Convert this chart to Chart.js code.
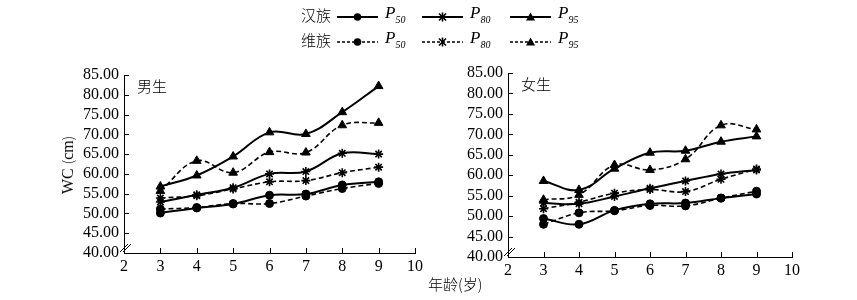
<!DOCTYPE html>
<html>
<head>
<meta charset="utf-8">
<script src="https://cdn.jsdelivr.net/npm/chart.js@4.4.1/dist/chart.umd.min.js"></script>
<style>
  body { margin: 0; background: #fff; width: 857px; height: 300px; position: relative; overflow: hidden;
         font-family: "Liberation Serif", "DejaVu Serif", serif; color: #000; }
  canvas { position: absolute; top: 0; }
  .zh { font-family: "Noto Sans CJK SC", sans-serif; font-weight: 300; }
  .abs { position: absolute; white-space: nowrap; }
  .lg-p { font-style: italic; font-size: 17px; }
  .lg-p sub { font-size: 10px; vertical-align: -5px; }
</style>
</head>
<body>
<canvas id="boysChart" width="440" height="300" style="left:0px"></canvas>
<canvas id="girlsChart" width="427" height="300" style="left:430px"></canvas>
<div id="legend"></div>
<div class="abs" style="left:67px;top:165px;transform:translate(-50%,-50%) rotate(-90deg);font-size:16px;">
  WC <span class="zh" style="font-size:14px">(</span>cm<span class="zh" style="font-size:14px">)</span>
</div>
<div class="abs zh" style="left:428px;top:273px;font-size:15px;">年龄(岁)</div>
<script>
/* Data */
const ages = [3, 4, 5, 6, 7, 8, 9];
const percentiles = ['50', '80', '95'];
const groups = ['汉族', '维族'];
const yTicks = [40, 45, 50, 55, 60, 65, 70, 75, 80, 85];
const xTicks = [2, 3, 4, 5, 6, 7, 8, 9, 10];

// boys (男生)
const boys_han_p50 = [50.1, 51.4, 52.4, 54.6, 54.9, 57.2, 58.0];
const boys_han_p80 = [52.9, 54.7, 56.5, 60.0, 60.6, 65.2, 65.0];
const boys_han_p95 = [56.8, 59.6, 64.4, 70.5, 70.1, 75.6, 82.2];
const boys_uyg_p50 = [51.1, 51.5, 52.5, 52.5, 54.4, 56.3, 57.6];
const boys_uyg_p80 = [53.9, 54.5, 56.2, 58.0, 58.3, 60.3, 61.7];
const boys_uyg_p95 = [55.7, 63.3, 60.3, 65.5, 65.4, 72.3, 72.9];

// girls (女生)
const girls_han_p50 = [49.4, 48.0, 51.4, 53.0, 53.2, 54.4, 55.4];
const girls_han_p80 = [53.2, 53.0, 54.8, 56.8, 58.6, 60.3, 61.3];
const girls_han_p95 = [58.6, 56.4, 61.6, 65.5, 66.0, 68.2, 69.5];
const girls_uyg_p50 = [48.0, 50.8, 51.3, 52.6, 52.5, 54.4, 56.1];
const girls_uyg_p80 = [51.8, 53.4, 55.6, 56.5, 56.0, 59.0, 61.5];
const girls_uyg_p95 = [54.0, 55.2, 62.5, 61.3, 63.9, 72.2, 71.2];

// marker per percentile
const markerStyle = { '50': 'circle', '80': 'star', '95': 'triangle' };
const markerRadius = { '50': 4, '80': 4.5, '95': 5 };

function toPoints(vals) {
  return vals.map((v, i) => ({ x: ages[i], y: v }));
}

function makeDataset(vals, pct, dashed) {
  return {
    data: toPoints(vals),
    borderColor: '#000',
    backgroundColor: '#000',
    borderWidth: dashed ? 1.6 : 2,
    borderDash: dashed ? [5, 3] : [],
    tension: 0.4,
    pointStyle: markerStyle[pct],
    pointRadius: markerRadius[pct],
    pointBorderColor: '#000',
    pointBackgroundColor: '#000',
    pointBorderWidth: pct === '80' ? 1.6 : 1,
    fill: false
  };
}

// inward tick marks + axis break + panel label
const axisExtras = {
  id: 'axisExtras',
  afterDraw(chart) {
    const ctx = chart.ctx;
    const xs = chart.scales.x, ys = chart.scales.y;
    const a = chart.chartArea;
    ctx.save();
    ctx.strokeStyle = '#000';
    ctx.lineWidth = 1;
    ctx.beginPath();
    xTicks.forEach(t => {
      const px = Math.round(xs.getPixelForValue(t)) + 0.5;
      ctx.moveTo(px, a.bottom);
      ctx.lineTo(px, a.bottom - 5);
    });
    yTicks.forEach(t => {
      const py = Math.round(ys.getPixelForValue(t)) + 0.5;
      ctx.moveTo(a.left, py);
      ctx.lineTo(a.left + 5, py);
    });
    ctx.stroke();
    // break marks
    ctx.beginPath();
    for (let k = 0; k < 2; k++) {
      ctx.moveTo(a.left - 4 + k * 3, a.bottom - 1);
      ctx.lineTo(a.left + 4 + k * 3, a.bottom - 9);
    }
    ctx.stroke();
    // panel label
    ctx.fillStyle = '#000';
    ctx.font = '300 15px "Noto Sans CJK SC"';
    ctx.textBaseline = 'middle';
    ctx.fillText(chart.options.plugins.panelLabel, a.left + 13, a.top + 11);
    ctx.restore();
  }
};

function makeChart(id, han, uyg, label, box) {
  const datasets = [];
  percentiles.forEach((p, i) => datasets.push(makeDataset(han[i], p, false)));
  percentiles.forEach((p, i) => datasets.push(makeDataset(uyg[i], p, true)));
  return new Chart(document.getElementById(id).getContext('2d'), {
    type: 'line',
    data: { datasets: datasets },
    plugins: [axisExtras],
    options: {
      responsive: false,
      animation: false,
      layout: { padding: { top: box.top, right: box.right, bottom: 0, left: 0 } },
      plugins: { legend: { display: false }, tooltip: { enabled: false }, panelLabel: label },
      scales: {
        x: {
          type: 'linear', min: 2, max: 10,
          afterBuildTicks: s => { s.ticks = xTicks.map(v => ({ value: v })); },
          afterFit: s => { s.height = box.xh; },
          grid: { display: false, drawTicks: false },
          border: { display: true, color: '#000', width: 1 },
          ticks: { color: '#000', padding: 4, autoSkip: false, maxRotation: 0,
                   font: { family: 'Liberation Serif', size: 16 } }
        },
        y: {
          type: 'linear', min: 40, max: 85,
          afterBuildTicks: s => { s.ticks = yTicks.map(v => ({ value: v })); },
          afterFit: s => { s.width = box.yw; },
          grid: { display: false, drawTicks: false },
          border: { display: true, color: '#000', width: 1 },
          ticks: { color: '#000', padding: 5, autoSkip: false, font: { family: 'Liberation Serif', size: 16 },
                   callback: v => Number(v).toFixed(2) }
        }
      }
    }
  });
}

makeChart('boysChart',
  [boys_han_p50, boys_han_p80, boys_han_p95],
  [boys_uyg_p50, boys_uyg_p80, boys_uyg_p95],
  '男生', { top: 75, right: 25, yw: 124, xh: 47 });

makeChart('girlsChart',
  [girls_han_p50, girls_han_p80, girls_han_p95],
  [girls_uyg_p50, girls_uyg_p80, girls_uyg_p95],
  '女生', { top: 73, right: 65, yw: 78, xh: 43 });

// Legend
const legendBox = document.getElementById('legend');
const colX = [337, 422, 510];
const rowY = [15, 40];
function markerSvg(pct) {
  if (pct === '50') return '<circle cx="20.5" cy="6" r="3.8" fill="#000"/>';
  if (pct === '95') return '<polygon points="20.5,1.5 25,9.5 16,9.5" fill="#000"/>';
  return '<g stroke="#000" stroke-width="1.6"><line x1="17" y1="2.5" x2="24" y2="9.5"/><line x1="24" y1="2.5" x2="17" y2="9.5"/><line x1="20.5" y1="1.5" x2="20.5" y2="10.5"/></g>';
}
groups.forEach((g, r) => {
  const lab = document.createElement('div');
  lab.className = 'abs zh';
  lab.style.cssText = 'left:301px;top:' + (rowY[r] - 11) + 'px;font-size:15px;';
  lab.textContent = g;
  legendBox.appendChild(lab);
  percentiles.forEach((p, c) => {
    const s = document.createElement('div');
    s.className = 'abs';
    s.style.cssText = 'left:' + colX[c] + 'px;top:' + (rowY[r] - 6) + 'px;';
    const dash = r === 1 ? ' stroke-dasharray="3,2"' : '';
    s.innerHTML = '<svg width="42" height="12"><line x1="0" y1="6" x2="41" y2="6" stroke="#000" stroke-width="' +
      (r === 1 ? 1.4 : 1.8) + '"' + dash + '/>' + markerSvg(p) + '</svg>';
    legendBox.appendChild(s);
    const t = document.createElement('div');
    t.className = 'abs lg-p';
    t.style.cssText = 'left:' + (colX[c] + 48) + 'px;top:' + (rowY[r] - 12) + 'px;';
    t.innerHTML = 'P<sub>' + p + '</sub>';
    legendBox.appendChild(t);
  });
});
</script>
</body>
</html>
